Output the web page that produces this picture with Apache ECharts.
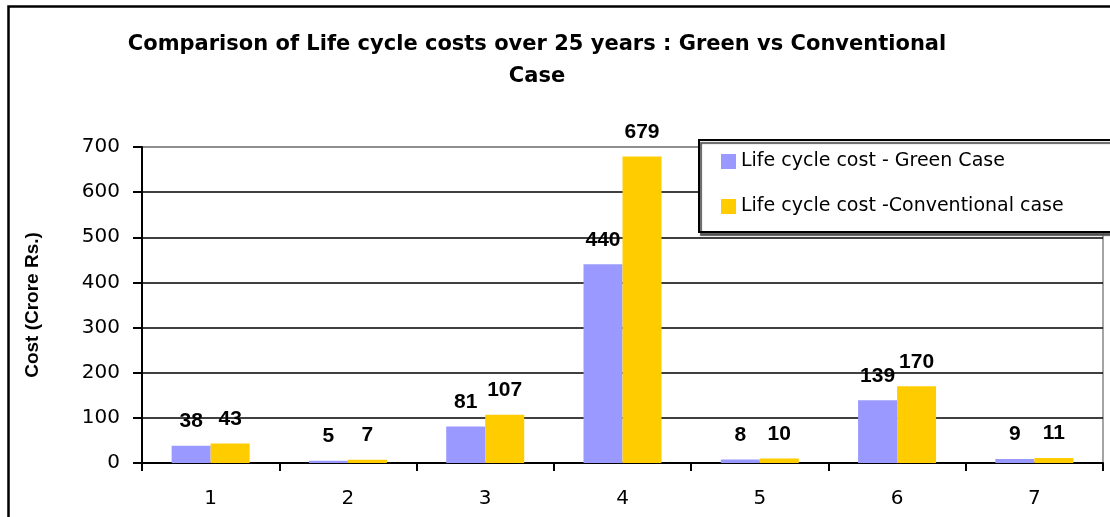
<!DOCTYPE html>
<html>
<head>
<meta charset="utf-8">
<script src="https://cdn.jsdelivr.net/npm/echarts@6/dist/echarts.min.js"></script>
<style>
html,body{margin:0;padding:0;background:#fff;}
#chart{width:1110px;height:517px;}
</style>
</head>
<body>
<div id="chart"></div>
<script>
const categories = ['1', '2', '3', '4', '5', '6', '7'];
const greenCase = [38, 5, 81, 440, 8, 139, 9];
const conventionalCase = [43, 7, 107, 679, 10, 170, 11];
const seriesNames = ['Life cycle cost - Green Case', 'Life cycle cost -Conventional case'];
const titleText = 'Comparison of Life cycle costs over 25 years : Green vs Conventional\nCase';
const yAxisName = 'Cost (Crore Rs.)';

const chart = echarts.init(document.getElementById('chart'), null, {renderer: 'canvas'});
const labelStyle = {
  show: true,
  position: 'top',
  distance: 14,
  color: '#000',
  fontFamily: 'Liberation Sans, Arial, sans-serif',
  fontWeight: 'bold',
  fontSize: 21
};
const option = {
  backgroundColor: '#fff',
  animation: false,
  graphic: [{
    type: 'text',
    x: 537,
    y: 29,
    style: {
      text: titleText,
      textAlign: 'center',
      textVerticalAlign: 'top',
      fontFamily: 'DejaVu Sans, sans-serif',
      fontWeight: 'bold',
      fontSize: 21,
      lineHeight: 32,
      fill: '#000'
    },
    z: 100,
    silent: true
  }, {
    type: 'rect',
    shape: {x: 8.5, y: 6.5, width: 1300, height: 700},
    style: {fill: 'none', stroke: '#000', lineWidth: 2.5},
    z: 100,
    silent: true
  }],
  legend: {
    orient: 'vertical',
    left: 699,
    top: 140,
    padding: [12, 60, 16, 22],
    itemGap: 26,
    itemWidth: 15,
    itemHeight: 15,
    icon: 'rect',
    backgroundColor: '#fff',
    borderColor: '#000',
    borderWidth: 2,
    shadowColor: 'rgba(80,80,80,0.9)',
    shadowBlur: 1,
    shadowOffsetX: 2,
    shadowOffsetY: 3,
    textStyle: {
      fontFamily: 'DejaVu Sans, sans-serif',
      fontSize: 19,
      color: '#000'
    },
    data: seriesNames
  },
  grid: {
    left: 142,
    right: 7,
    top: 147,
    bottom: 54,
    show: true,
    borderColor: '#888',
    borderWidth: 1.5,
    backgroundColor: 'transparent'
  },
  xAxis: {
    type: 'category',
    data: categories,
    boundaryGap: true,
    axisLine: {lineStyle: {color: '#000', width: 2}},
    axisTick: {show: true, length: 8, lineStyle: {color: '#000', width: 2}},
    axisLabel: {
      margin: 26,
      color: '#000',
      fontFamily: 'DejaVu Sans, sans-serif',
      fontSize: 20
    }
  },
  yAxis: {
    type: 'value',
    min: 0,
    max: 700,
    interval: 100,
    name: yAxisName,
    nameLocation: 'middle',
    nameRotate: 90,
    nameGap: 100,
    nameTextStyle: {
      fontFamily: 'Liberation Sans, Arial, sans-serif',
      fontWeight: 'bold',
      fontSize: 19,
      color: '#000'
    },
    axisLine: {show: true, lineStyle: {color: '#000', width: 2}},
    axisTick: {show: true, length: 9, lineStyle: {color: '#000', width: 2}},
    axisLabel: {
      margin: 22,
      color: '#000',
      fontFamily: 'DejaVu Sans, sans-serif',
      fontSize: 20
    },
    splitLine: {
      show: true,
      lineStyle: {
        color: ['#000', '#000', '#000', '#000', '#000', '#000', '#000', '#888'],
        width: 1.5
      }
    }
  },
  series: [
    {
      name: seriesNames[0],
      type: 'bar',
      data: greenCase,
      barWidth: 39,
      barGap: '0%',
      itemStyle: {color: '#9999FF'},
      label: labelStyle
    },
    {
      name: seriesNames[1],
      type: 'bar',
      data: conventionalCase,
      barWidth: 39,
      barGap: '0%',
      itemStyle: {color: '#FFCC00'},
      label: labelStyle
    }
  ]
};
chart.setOption(option);
</script>
</body>
</html>
